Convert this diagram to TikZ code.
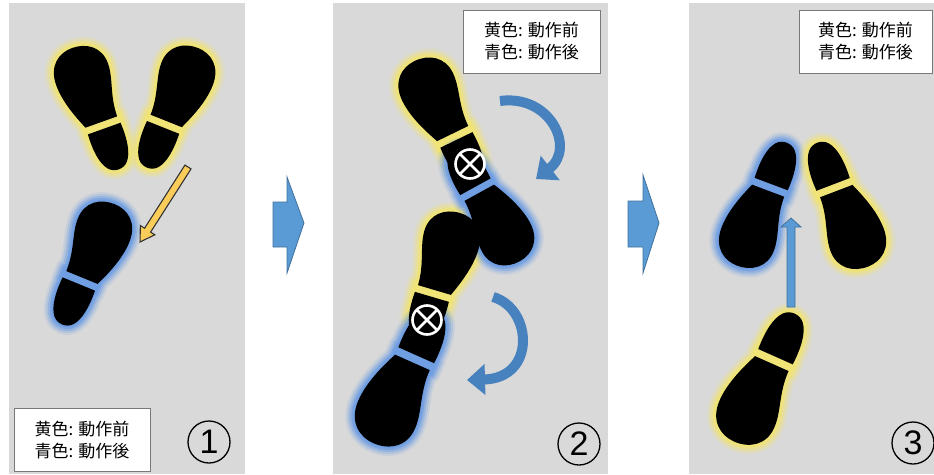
\documentclass[tikz,border=0pt]{standalone}
\usepackage{fontspec}
\usetikzlibrary{arrows.meta}
\newfontfamily\cjkfont{Noto Sans CJK JP}
\newfontfamily\numfont{Liberation Sans}

\definecolor{panelgray}{RGB}{217,217,217}
\definecolor{glowyellow}{RGB}{240,228,118}
\definecolor{glowblue}{RGB}{112,158,226}
\definecolor{stepblue}{RGB}{91,155,213}
\definecolor{stepblueline}{RGB}{65,113,156}
\definecolor{turnblue}{RGB}{72,130,190}
\definecolor{moveyellow}{RGB}{250,204,90}
\definecolor{legendline}{RGB}{120,120,120}

\tikzset{
  % outline of a shoe print, toe up, 128 units long
  forepart/.style={insert path={(-17,14) .. controls (-23,0) and (-30,-18) .. (-30,-35)
      .. controls (-30,-55) and (-17,-64) .. (-3,-64)
      .. controls (12,-64) and (25,-55) .. (25,-38)
      .. controls (25,-22) and (16,-8) .. (16,14) -- cycle}},
  heelpart/.style={insert path={(-17,21) -- (17,21) .. controls (18,38) and (16,52) .. (10,59)
      .. controls (5,65) and (-5,65) .. (-10,59)
      .. controls (-16,52) and (-18,38) .. (-17,21) -- cycle}},
  bandpart/.style={insert path={(-18,11) rectangle (18,24)}},
  panel/.style={fill=panelgray},
  legendbox/.style={draw=legendline, line width=1pt, fill=white, inner sep=0pt,
      align=center, font=\cjkfont\fontsize{17}{22}\selectfont},
  stepno/.style={circle, draw=black, line width=1.3pt, minimum size=42pt, inner sep=0pt,
      font=\numfont\fontsize{34}{34}\selectfont},
  nextstep/.style={fill=stepblue, draw=stepblueline, line width=0.8pt, line join=miter},
  pivotmark/.style={circle, draw=white, fill=black, line width=2.6pt, minimum size=29pt,
      inner sep=0pt, path picture={\draw[white,line width=2.6pt]
        (path picture bounding box.south west) -- (path picture bounding box.north east)
        (path picture bounding box.north west) -- (path picture bounding box.south east);}},
  turnarrow/.style={draw=turnblue, line width=10pt, -{Triangle[width=30pt,length=18pt]}},
}

% soft coloured halo of a print: x, y, angle, scale, mirror, colour
\newcommand\soleglow[6]{%
  \begin{scope}[shift={(#1,#2)},rotate=#3,scale=#4,xscale=#5]
    \foreach \w/\o in {19/0.15,15/0.25,11/0.4,7/0.7,3/1}{%
      \draw[#6,line width=\w pt,opacity=\o,line join=round] [forepart] [bandpart] [heelpart];}
    \fill[#6] [bandpart];
  \end{scope}}
% black sole and heel of a print: x, y, angle, scale, mirror
\newcommand\soleblack[5]{%
  \begin{scope}[shift={(#1,#2)},rotate=#3,scale=#4,xscale=#5]
    \fill[black] [forepart] [heelpart];
  \end{scope}}

\begin{document}
\begin{tikzpicture}[x=1pt,y=-1pt]
  \useasboundingbox (0,0) rectangle (934,474);
  \fill[white] (0,0) rectangle (934,474);

  % three panels
  \fill[panel] (9,3) rectangle (245,474);
  \fill[panel] (333,3) rectangle (608,474);
  \fill[panel] (689,3) rectangle (934,474);

  % arrows between the panels
  \path[nextstep] (273,202) -- (287,202) -- (287,177) -- (304,223) -- (287,273)
        -- (287,247) -- (273,247) -- cycle;
  \path[nextstep] (628,201) -- (643,201) -- (643,175) -- (659,223) -- (643,273)
        -- (643,247) -- (628,247) -- cycle;

  % ---- panel 1 ----
  \soleglow{97}{108.4}{19.7}{1.02}{1}{glowyellow}
  \soleglow{171}{107.5}{-21.7}{1.02}{-1}{glowyellow}
  \soleglow{87}{264}{-22.3}{1.03}{-1}{glowblue}
  \soleblack{97}{108.4}{19.7}{1.02}{1}
  \soleblack{171}{107.5}{-21.7}{1.02}{-1}
  \soleblack{87}{264}{-22.3}{1.03}{-1}

  \coordinate (m1s) at (188,167);
  \begin{scope}[shift={(m1s)},rotate=237.4]
    \draw[fill=moveyellow, draw=black!80, line width=1.1pt, line join=miter]
      (0,-3.6) -- (75,-3.6) -- (75,-8.6) -- (89,0) -- (75,8.6) -- (75,3.6) -- (0,3.6) -- cycle;
  \end{scope}

  \node[legendbox, minimum width=136pt, minimum height=63pt] (leg1) at (82,440)
    {黄色: 動作前\\青色: 動作後};
  \node[stepno] (n1) at (209,442) {1};

  % ---- panel 2 ----
  \soleglow{446.7}{120.1}{26}{1.05}{1}{glowyellow}
  \soleglow{438.1}{275.9}{-16.5}{1.04}{-1}{glowyellow}
  \soleglow{485.7}{205.5}{208.8}{1.02}{1}{glowblue}
  \soleglow{406.4}{377.3}{156}{1.15}{-1}{glowblue}
  \soleblack{446.7}{120.1}{26}{1.05}{1}
  \soleblack{485.7}{205.5}{208.8}{1.02}{1}
  \soleblack{438.1}{275.9}{-16.5}{1.04}{-1}
  \soleblack{406.4}{377.3}{156}{1.15}{-1}

  \node[pivotmark] (pv1) at (470,164) {};
  \node[pivotmark] (pv2) at (427,320) {};

  \coordinate (t1s) at (500,101);
  \coordinate (t1e) at (536,179);
  \draw[turnarrow] (t1s) .. controls (550,94) and (576,148) .. (t1e);
  \coordinate (t2s) at (493,297);
  \coordinate (t2e) at (467,380);
  \draw[turnarrow] (t2s) .. controls (532,308) and (537,378) .. (t2e);

  \node[legendbox, minimum width=137pt, minimum height=63pt] (leg2) at (531.5,41.5)
    {黄色: 動作前\\青色: 動作後};
  \node[stepno] (n2) at (579,444) {2};

  % ---- panel 3 ----
  \soleglow{763.5}{204.5}{159.4}{1.04}{-1}{glowblue}
  \soleglow{841}{205}{200.9}{1.05}{1}{glowyellow}
  \soleglow{766}{378}{156}{1.11}{-1}{glowyellow}
  \soleblack{763.5}{204.5}{159.4}{1.04}{-1}
  \soleblack{841}{205}{200.9}{1.05}{1}
  \soleblack{766}{378}{156}{1.11}{-1}

  \coordinate (m3s) at (791,307);
  \draw[fill=stepblue, draw=stepblueline, line width=0.8pt, line join=miter]
    (m3s) -- ++(-4,0) -- ++(0,-80) -- ++(-6,0) -- ++(10,-9) -- ++(10,9) -- ++(-6,0)
    -- ++(0,80) -- cycle;

  \node[legendbox, minimum width=133pt, minimum height=63pt] (leg3) at (865.5,41.5)
    {黄色: 動作前\\青色: 動作後};
  \node[stepno] (n3) at (913,443) {3};
\end{tikzpicture}
\end{document}
